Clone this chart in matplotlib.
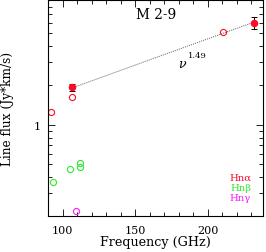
import matplotlib
matplotlib.use("Agg")
import matplotlib.pyplot as plt
import numpy as np
from matplotlib.ticker import FixedLocator, NullFormatter, FixedFormatter, MultipleLocator

plt.rcParams['font.family'] = ['DejaVu Serif']
plt.rcParams['mathtext.fontset'] = 'dejavuserif'

# H n-alpha: fitted (filled, with errors) and other (open)
alpha_fit_freq = [106.7, 231.9]
alpha_fit_flux = [1.94, 6.02]
alpha_fit_err = [0.12, 0.6]
alpha_open_freq = [92.0, 106.7, 210.5]
alpha_open_flux = [1.25, 1.62, 5.14]
beta_freq = [93.4, 105.3, 111.9, 111.9]
beta_flux = [0.367, 0.458, 0.515, 0.477]
gamma_freq = [109.5]
gamma_flux = [0.220]
index = 1.49
index_label = "1.49"
series_labels = ['Hnα', 'Hnβ', 'Hnγ']

red = '#ff0a28'
green = '#2ee82e'
mag = '#ff1aff'

fig = plt.figure(figsize=(2.66, 2.53), dpi=100)
ax = fig.add_axes([48/266, 1-217.3/253, (262.7-48)/266, (217.3-1)/253])
ax.set_yscale('log')
ax.set_xlim(90, 238)
ax.set_ylim(0.2, 9.0)

# power-law fit drawn as a straight segment between the fitted frequencies
nu = np.array(alpha_fit_freq)
f0 = np.sqrt(alpha_fit_flux[0]*alpha_fit_flux[1]) / (np.sqrt(alpha_fit_freq[0]*alpha_fit_freq[1]))**index
ax.plot(nu, f0*nu**index, color='0.45', lw=0.7, ls=(0, (1.2, 1.0)))

ax.errorbar(alpha_fit_freq, alpha_fit_flux, yerr=alpha_fit_err, fmt='o', color=red,
            ms=4.4, ecolor='k', elinewidth=0.7, capsize=2, capthick=0.7, zorder=3)
ax.plot(alpha_open_freq, alpha_open_flux, 'o', mfc='none', mec=red, ms=4.4, mew=0.8)
ax.plot(beta_freq, beta_flux, 'o', mfc='none', mec=green, ms=4.4, mew=0.8)
ax.plot(gamma_freq, gamma_flux, 'o', mfc='none', mec=mag, ms=4.4, mew=0.8)

ax.xaxis.set_major_locator(FixedLocator([100, 150, 200]))
ax.xaxis.set_minor_locator(MultipleLocator(10))
ax.yaxis.set_major_locator(FixedLocator([1]))
ax.yaxis.set_major_formatter(FixedFormatter(['1']))
ax.yaxis.set_minor_locator(FixedLocator([0.2, 0.3, 0.4, 0.5, 0.6, 0.7, 0.8, 0.9, 2, 3, 4, 5, 6, 7, 8, 9]))
ax.yaxis.set_minor_formatter(NullFormatter())
ax.tick_params(which='both', direction='in', top=True, right=True, labelsize=8, width=0.6)
ax.tick_params(axis='x', which='major', pad=6)
ax.tick_params(axis='y', which='major', pad=5.5)
ax.tick_params(which='major', length=5)
ax.tick_params(which='minor', length=3)
for s in ax.spines.values():
    s.set_linewidth(0.8)

ax.set_xlabel('Frequency (GHz)', fontsize=9.2, labelpad=0.3)
ax.set_ylabel('Line flux (Jy*km/s)', fontsize=8.7, labelpad=14)

ax.text(0.503, 0.935, 'M 2-9', transform=ax.transAxes, ha='center', va='center', fontsize=9.8)
ax.text(0.607, 0.708, r'$\nu$', transform=ax.transAxes, ha='left', va='center', fontsize=9)
ax.text(0.651, 0.748, index_label, transform=ax.transAxes, ha='left', va='center', fontsize=6)

for lab, col, yy in zip(series_labels, [red, green, mag], [0.180, 0.134, 0.088]):
    ax.text(0.946, yy, lab, transform=ax.transAxes, ha='right', va='center', fontsize=7.2, color=col)

fig.savefig('out.png', dpi=100)
